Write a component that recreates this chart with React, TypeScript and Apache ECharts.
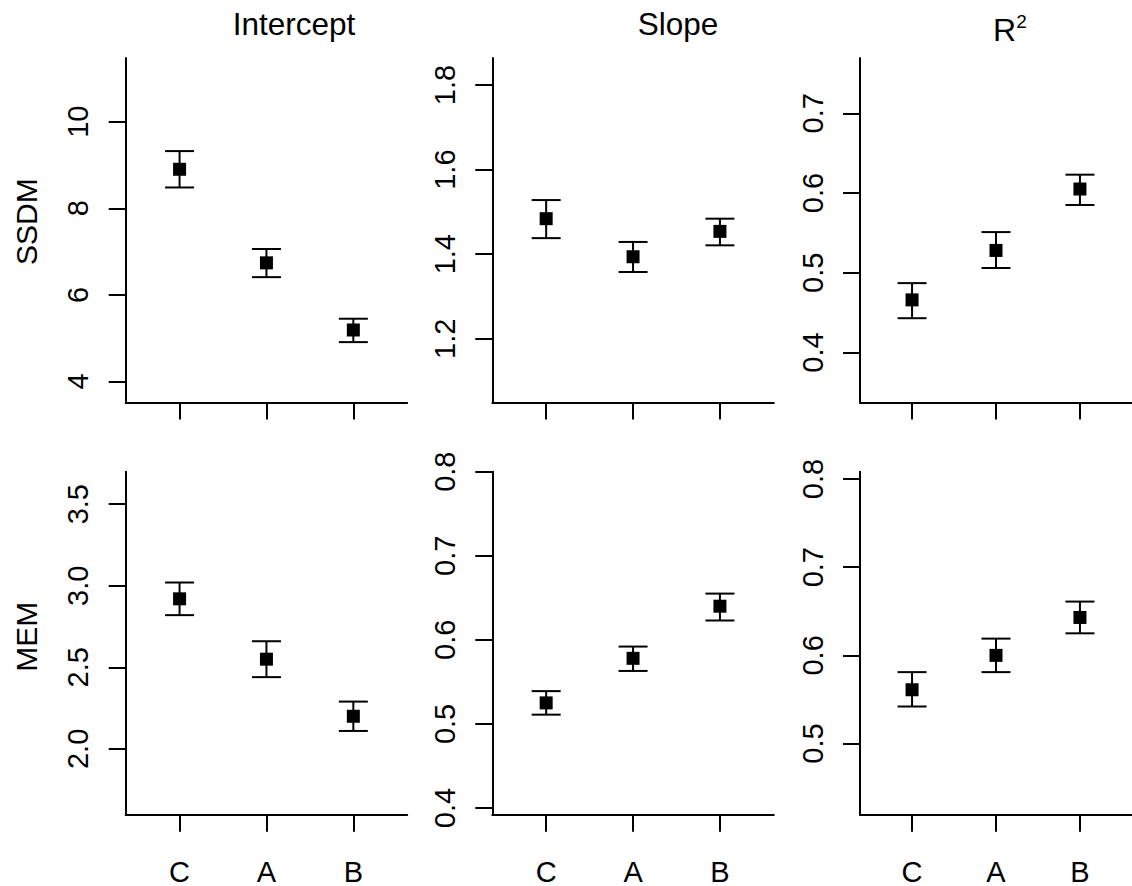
import React, { useEffect, useRef } from "react";
import * as echarts from "echarts";

const categories = ["C", "A", "B"];
const columnTitles = ["Intercept", "Slope", "R"];
const rowTitles = ["SSDM", "MEM"];

const ssdmInterceptMean = [8.9, 6.74, 5.19];
const ssdmInterceptLow = [8.48, 6.41, 4.91];
const ssdmInterceptHigh = [9.32, 7.06, 5.45];

const ssdmSlopeMean = [1.484, 1.394, 1.454];
const ssdmSlopeLow = [1.438, 1.358, 1.421];
const ssdmSlopeHigh = [1.528, 1.429, 1.484];

const ssdmR2Mean = [0.466, 0.528, 0.605];
const ssdmR2Low = [0.443, 0.506, 0.585];
const ssdmR2High = [0.487, 0.551, 0.623];

const memInterceptMean = [2.92, 2.55, 2.2];
const memInterceptLow = [2.82, 2.44, 2.11];
const memInterceptHigh = [3.02, 2.66, 2.29];

const memSlopeMean = [0.525, 0.578, 0.64];
const memSlopeLow = [0.511, 0.563, 0.623];
const memSlopeHigh = [0.539, 0.592, 0.655];

const memR2Mean = [0.561, 0.6, 0.643];
const memR2Low = [0.542, 0.581, 0.625];
const memR2High = [0.581, 0.619, 0.661];

const ssdmInterceptTicks = [4, 6, 8, 10];
const ssdmSlopeTicks = [1.2, 1.4, 1.6, 1.8];
const ssdmR2Ticks = [0.4, 0.5, 0.6, 0.7];
const memInterceptTicks = [2.0, 2.5, 3.0, 3.5];
const memSlopeTicks = [0.4, 0.5, 0.6, 0.7, 0.8];
const memR2Ticks = [0.5, 0.6, 0.7, 0.8];

const FONT = "'Liberation Sans', Arial, Helvetica, sans-serif";

type Panel = {
  mean: number[];
  low: number[];
  high: number[];
  ticks: number[];
  yMin: number;
  yMax: number;
  decimals: number;
};

const panels: Panel[] = [
  { mean: ssdmInterceptMean, low: ssdmInterceptLow, high: ssdmInterceptHigh, ticks: ssdmInterceptTicks, yMin: 3.516, yMax: 11.469, decimals: 0 },
  { mean: ssdmSlopeMean, low: ssdmSlopeLow, high: ssdmSlopeHigh, ticks: ssdmSlopeTicks, yMin: 1.0495, yMax: 1.8638, decimals: 1 },
  { mean: ssdmR2Mean, low: ssdmR2Low, high: ssdmR2High, ticks: ssdmR2Ticks, yMin: 0.3373, yMax: 0.7693, decimals: 1 },
  { mean: memInterceptMean, low: memInterceptLow, high: memInterceptHigh, ticks: memInterceptTicks, yMin: 1.5966, yMax: 3.6993, decimals: 1 },
  { mean: memSlopeMean, low: memSlopeLow, high: memSlopeHigh, ticks: memSlopeTicks, yMin: 0.392, yMax: 0.8, decimals: 1 },
  { mean: memR2Mean, low: memR2Low, high: memR2High, ticks: memR2Ticks, yMin: 0.4193, yMax: 0.8083, decimals: 1 },
];

const colLefts = [125.7, 492.3, 860];
const rowTops = [58, 471.7];
const gridW = 281.5;
const gridH = 344.5;

export default function App() {
  const ref = useRef<HTMLDivElement>(null);
  useEffect(() => {
    if (!ref.current) return;
    const chart = echarts.init(ref.current, null, { renderer: "svg" });

    const grids: any[] = [];
    const xAxes: any[] = [];
    const yAxes: any[] = [];
    const series: any[] = [];
    const catX = categories.map((_, i) => i + 1);

    panels.forEach((p, idx) => {
      const row = Math.floor(idx / 3);
      const col = idx % 3;
      grids.push({ left: colLefts[col], top: rowTops[row], width: gridW, height: gridH, containLabel: false });
      xAxes.push({
        type: "value",
        gridIndex: idx,
        min: 0.38,
        max: 3.62,
        axisLine: { show: true, onZero: false, lineStyle: { color: "#000", width: 2 } },
        axisTick: { show: true, customValues: catX, length: 17, lineStyle: { color: "#000", width: 2 } },
        axisLabel: {
          show: row === 1,
          customValues: catX,
          formatter: (v: number) => categories[Math.round(v) - 1] ?? "",
          fontSize: 29,
          lineHeight: 22,
          margin: 45.8,
          color: "#000",
          fontFamily: FONT,
        },
        splitLine: { show: false },
      });
      yAxes.push({
        type: "value",
        gridIndex: idx,
        min: p.yMin,
        max: p.yMax,
        axisLine: { show: true, onZero: false, lineStyle: { color: "#000", width: 2 } },
        axisTick: { show: true, customValues: p.ticks, length: 17, lineStyle: { color: "#000", width: 2 } },
        axisLabel: {
          show: true,
          customValues: p.ticks,
          rotate: 90,
          formatter: (v: number) => v.toFixed(p.decimals),
          fontSize: 29,
          lineHeight: 24,
          margin: 35.4,
          color: "#000",
          fontFamily: FONT,
          showMinLabel: true,
          showMaxLabel: true,
        },
        splitLine: { show: false },
      });
      const data = catX.map((x, i) => [x, p.mean[i], p.low[i], p.high[i]]);
      series.push({
        type: "custom",
        xAxisIndex: idx,
        yAxisIndex: idx,
        clip: false,
        data,
        renderItem: (params: any, api: any) => {
          const x = api.value(0);
          const m = api.coord([x, api.value(1)]);
          const lo = api.coord([x, api.value(2)]);
          const hi = api.coord([x, api.value(3)]);
          const cap = 14.5;
          const half = 6.5;
          const ls = { stroke: "#000", lineWidth: 2 };
          return {
            type: "group",
            children: [
              { type: "line", shape: { x1: lo[0], y1: lo[1], x2: hi[0], y2: hi[1] }, style: ls },
              { type: "line", shape: { x1: lo[0] - cap, y1: lo[1], x2: lo[0] + cap, y2: lo[1] }, style: ls },
              { type: "line", shape: { x1: hi[0] - cap, y1: hi[1], x2: hi[0] + cap, y2: hi[1] }, style: ls },
              { type: "rect", shape: { x: m[0] - half, y: m[1] - half, width: half * 2, height: half * 2 }, style: { fill: "#000" } },
            ],
          };
        },
      });
    });

    const graphic: any[] = [
      { type: "text", x: 294, y: 23.5, style: { text: columnTitles[0], fontSize: 31.5, fontFamily: FONT, fill: "#000", align: "center", verticalAlign: "middle" } },
      { type: "text", x: 678, y: 23.5, style: { text: columnTitles[1], fontSize: 31.5, fontFamily: FONT, fill: "#000", align: "center", verticalAlign: "middle" } },
      { type: "text", x: 1004.5, y: 30, style: { text: columnTitles[2], fontSize: 32, fontFamily: FONT, fill: "#000", align: "center", verticalAlign: "middle" } },
      { type: "text", x: 1021.5, y: 21.5, style: { text: "2", fontSize: 19, fontFamily: FONT, fill: "#000", align: "center", verticalAlign: "middle" } },
      { type: "text", x: 26, y: 221.7, rotation: Math.PI / 2, style: { text: rowTitles[0], fontSize: 30, fontFamily: FONT, fill: "#000", align: "center", verticalAlign: "middle" } },
      { type: "text", x: 26, y: 636.7, rotation: Math.PI / 2, style: { text: rowTitles[1], fontSize: 30, fontFamily: FONT, fill: "#000", align: "center", verticalAlign: "middle" } },
    ];

    chart.setOption({
      animation: false,
      backgroundColor: "#fff",
      grid: grids,
      xAxis: xAxes,
      yAxis: yAxes,
      series,
      graphic,
    });
    return () => chart.dispose();
  }, []);
  return (
    <div style={{ position: "fixed", left: 0, top: 0, width: 1132, height: 886, background: "#fff" }}>
      <div ref={ref} style={{ width: 1132, height: 886 }} />
    </div>
  );
}
